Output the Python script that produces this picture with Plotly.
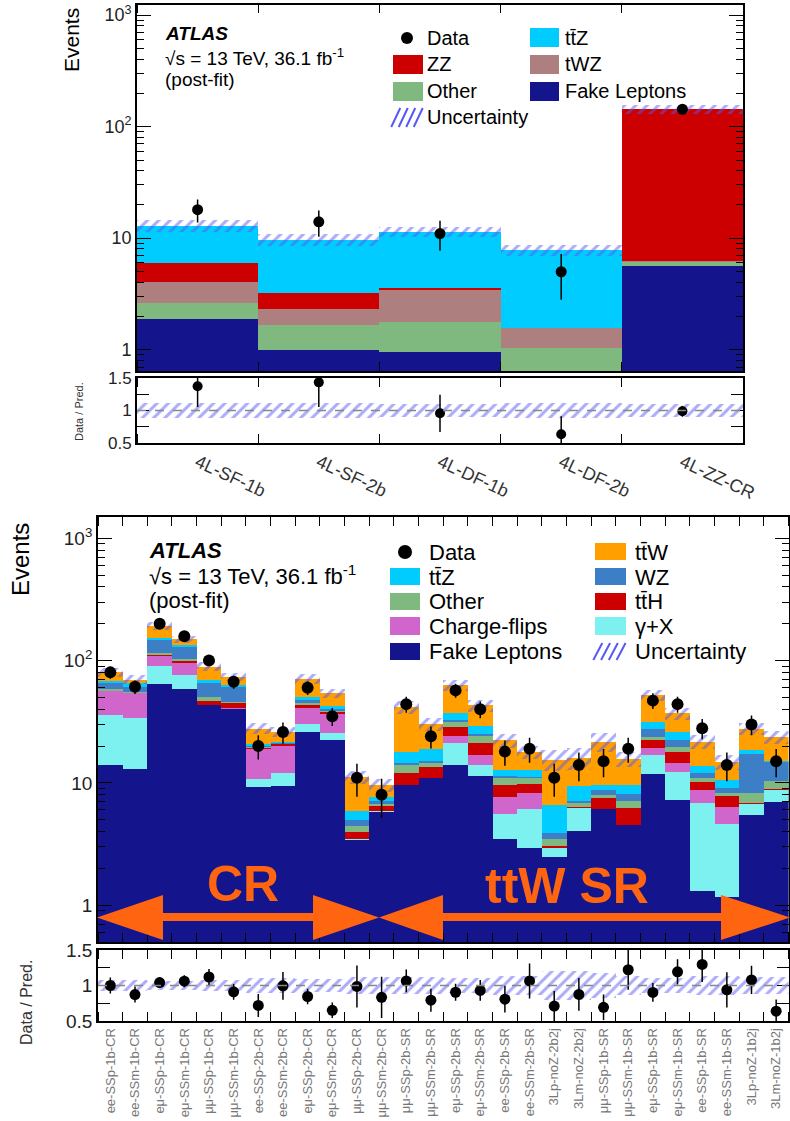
import numpy as np
import plotly.graph_objects as go

W, H = 790, 1121
def X(px): return px / W
def Y(py): return 1 - py / H

# ---------------- data: top (4L regions) ----------------
top_cats = ["4L-SF-1b", "4L-SF-2b", "4L-DF-1b", "4L-DF-2b", "4L-ZZ-CR"]
top_fake  = [1.9, 1.0, 0.97, 0.3, 5.7]
top_other = [0.74, 0.69, 0.84, 0.74, 0.5]
top_twz   = [1.49, 0.64, 1.64, 0.54, 0.05]
top_zz    = [1.91, 0.94, 0.2, 0.0, 138.0]
top_ttz   = [7.06, 6.5, 7.85, 6.31, 0.5]
top_data  = [18, 14, 11, 5, 143]
top_err   = [4.2, 3.7, 3.3, 2.2, 12.0]
top_unc   = [0.12, 0.12, 0.10, 0.12, 0.10]

# ---------------- data: bottom (2LSS / 3L regions) ----------------
bot_cats = ["ee-SSp-1b-CR", "ee-SSm-1b-CR", "eμ-SSp-1b-CR", "eμ-SSm-1b-CR",
            "μμ-SSp-1b-CR", "μμ-SSm-1b-CR", "ee-SSp-2b-CR", "ee-SSm-2b-CR",
            "eμ-SSp-2b-CR", "eμ-SSm-2b-CR", "μμ-SSp-2b-CR", "μμ-SSm-2b-CR",
            "μμ-SSp-2b-SR", "μμ-SSm-2b-SR", "eμ-SSp-2b-SR", "eμ-SSm-2b-SR",
            "ee-SSp-2b-SR", "ee-SSm-2b-SR", "3Lp-noZ-2b2j", "3Lm-noZ-2b2j",
            "μμ-SSp-1b-SR", "μμ-SSm-1b-SR", "eμ-SSp-1b-SR", "eμ-SSm-1b-SR",
            "ee-SSp-1b-SR", "ee-SSm-1b-SR", "3Lp-noZ-1b2j", "3Lm-noZ-1b2j"]
bot_fake  = [14, 12.9, 64, 58, 43, 40, 9.3, 9.4, 25.8, 22.3, 3.4, 5.8, 9.6, 10.9,
             14.1, 11.4, 3.45, 2.96, 2.48, 4.05, 6.06, 4.51, 11.9, 7.3, 1.31, 1.17, 5.5, 7.0]
bot_gamma = [22, 20.7, 26, 18, 0.5, 0.5, 1.4, 2.7, 4.4, 3.3, 0.05, 0.05, 0.05, 0.05,
             6.9, 2.6, 2.15, 3.1, 0.48, 2.2, 0.05, 0.05, 4.9, 5.0, 5.55, 3.43, 1.2, 1.7]
bot_qflip = [20, 20.2, 19, 18.6, 0.2, 0.2, 8.1, 7.9, 11.1, 10.9, 0, 0, 0, 0,
             3.0, 2.8, 2.0, 2.2, 0, 0, 0, 0, 2.3, 2.3, 1.84, 1.76, 0, 0]
bot_tth   = [0.5, 0.5, 2, 5, 3, 3.9, 0.5, 0.6, 1.9, 1.1, 0.55, 0.6, 2.5, 2.6,
             4.7, 4.2, 2.0, 1.6, 0.07, 0.1, 1.44, 1.66, 3.2, 3.3, 1.5, 1.44, 0.2, 0.2]
bot_other = [2, 1.2, 4, 2.4, 4, 1.6, 0.3, 0.3, 1.5, 1.0, 0.4, 0.25, 1.9, 1.1,
             2.9, 3.0, 1.3, 1.0, 0.42, 0.5, 0.4, 0.83, 1.5, 1.8, 0.7, 0.5, 1.3, 1.5]
bot_wz    = [7, 5.4, 32, 28, 14.4, 14.7, 0.3, 0.3, 2.8, 1.5, 0.6, 0.4, 0.6, 0.5,
             1.0, 0.9, 0.45, 0.4, 0.45, 0.2, 0.8, 1.1, 3.5, 2.6, 1.2, 0.85, 9.0, 4.5]
bot_ttz   = [2.5, 4, 5, 3, 4.2, 2.1, 1.0, 0.5, 2.9, 2.3, 0.85, 0.6, 3.3, 3.7,
             4.3, 4.1, 1.35, 1.4, 2.68, 2.3, 0.9, 1.5, 4.2, 3.8, 1.6, 1.35, 1.3, 0.3]
bot_ttw   = [12, 5, 40, 16, 20, 10.6, 6.9, 4.4, 20.6, 11.4, 5.3, 1.9, 23.4, 11.4,
             26.1, 14.0, 9.6, 5.2, 8.9, 6.65, 12.0, 5.9, 20.6, 10.8, 7.9, 4.4, 9.3, 8.3]
bot_data  = [80, 61, 200, 158, 100, 67, 20, 26, 60, 35, 11, 8, 44, 24,
             57, 40, 18, 19, 11, 14, 15, 19, 47, 44, 28, 14, 30, 15]
bot_err   = [9, 7.8, 14, 12.6, 10, 8.2, 4.5, 5.1, 7.7, 5.9, 3.3, 2.8, 6.6, 4.9,
             7.5, 6.3, 4.2, 4.4, 3.3, 3.7, 3.9, 4.4, 6.9, 6.6, 5.3, 3.7, 5.5, 3.9]
bot_unc   = [0.08, 0.08, 0.07, 0.07, 0.08, 0.08, 0.10, 0.10, 0.09, 0.09, 0.12, 0.12,
             0.12, 0.12, 0.11, 0.11, 0.13, 0.13, 0.20, 0.20, 0.18, 0.14, 0.11, 0.11,
             0.13, 0.14, 0.12, 0.12]

# ---------------- colours ----------------
C_FAKE = "#14148c"; C_OTHER = "#80b980"; C_TWZ = "#ae7f7f"; C_ZZ = "#cc0000"
C_TTZ = "#00ccff"; C_TTW = "#ff9f00"; C_WZ = "#3d7fc6"; C_TTH = "#cc0000"
C_QF = "#d066cc"; C_GAM = "#7df0f0"; C_HATCH = "#5858f5"; C_OR = "#ff6410"

FONT = "Liberation Sans, Arial, Helvetica, sans-serif"
fig = go.Figure()

def add_stack(comps, colors, names, xa, ya):
    n = len(comps[0])
    xs = np.arange(n)
    cum = np.cumsum(np.array(comps, dtype=float), axis=0)
    for k in range(len(comps) - 1, -1, -1):
        fig.add_trace(go.Bar(x=xs, y=cum[k], width=1.0, name=names[k],
                             marker=dict(color=colors[k], line=dict(width=0)),
                             xaxis=xa, yaxis=ya, showlegend=False))
    return cum[-1]

def add_band(total, unc, xa, ya, ratio=False):
    total = np.array(total, float); unc = np.array(unc, float)
    xs = np.arange(len(total))
    if ratio:
        base = 1 - unc; height = 2 * unc
    else:
        base = total * (1 - unc); height = total * 2 * unc
    fig.add_trace(go.Bar(x=xs, y=height, base=base, width=1.0, name="Uncertainty",
                         marker=dict(color="rgba(0,0,0,0)", line=dict(width=0),
                                     pattern=dict(shape="/", fgcolor=C_HATCH,
                                                  bgcolor="rgba(0,0,0,0)",
                                                  size=8, solidity=0.38)),
                         xaxis=xa, yaxis=ya, showlegend=False))

def add_data(vals, errs, xa, ya, size):
    fig.add_trace(go.Scatter(x=np.arange(len(vals)), y=vals, mode="markers", name="Data",
                             marker=dict(color="black", size=size),
                             error_y=dict(type="data", array=errs, color="black",
                                          thickness=1.5, width=0),
                             xaxis=xa, yaxis=ya, showlegend=False))

# ---- top main
top_tot = add_stack([top_fake, top_other, top_twz, top_zz, top_ttz],
                    [C_FAKE, C_OTHER, C_TWZ, C_ZZ, C_TTZ],
                    ["Fake Leptons", "Other", "tWZ", "ZZ", "tt̄Z"], "x", "y")
add_band(top_tot, top_unc, "x", "y")
add_data(top_data, top_err, "x", "y", 11)
# ---- top ratio
add_band(top_tot, top_unc, "x2", "y2", ratio=True)
add_data(np.array(top_data) / top_tot, np.array(top_err) / top_tot, "x2", "y2", 10)

# ---- bottom main
bot_tot = add_stack([bot_fake, bot_gamma, bot_qflip, bot_tth, bot_other, bot_wz, bot_ttz, bot_ttw],
                    [C_FAKE, C_GAM, C_QF, C_TTH, C_OTHER, C_WZ, C_TTZ, C_TTW],
                    ["Fake Leptons", "γ+X", "Charge-flips", "tt̄H", "Other", "WZ", "tt̄Z", "tt̄W"],
                    "x3", "y3")
add_band(bot_tot, bot_unc, "x3", "y3")
add_data(bot_data, bot_err, "x3", "y3", 12)
# ---- bottom ratio
add_band(bot_tot, bot_unc, "x4", "y4", ratio=True)
add_data(np.array(bot_data) / bot_tot, np.array(bot_err) / bot_tot, "x4", "y4", 11)

# ---------------- axes ----------------
minor_log = [m * 10.0 ** k for k in range(-1, 4) for m in range(2, 10)]
def log_axis(domain, rng, fsize):
    return dict(type="log", domain=domain, range=rng, tickmode="array",
                tickvals=[1, 10, 100, 1000], ticktext=["1", "10", "10<sup>2</sup>", "10<sup>3</sup>"],
                ticks="inside", ticklen=14, tickwidth=1.3, tickcolor="black",
                minor=dict(ticks="inside", ticklen=7, tickwidth=1.2, tickcolor="black",
                           tickmode="array", tickvals=minor_log),
                showline=True, linecolor="black", linewidth=1.8, mirror="allticks",
                showgrid=False, zeroline=False, tickfont=dict(family=FONT, size=fsize, color="#222"),
                automargin=False)

def ratio_axis(domain, fsize):
    return dict(domain=domain, range=[0.5, 1.5], tickmode="array",
                tickvals=[0.5, 1, 1.5], ticktext=["0.5", "1", "1.5"],
                ticks="inside", ticklen=12, tickwidth=1.3, tickcolor="black",
                minor=dict(ticks="inside", ticklen=12, tickwidth=1.3, tickcolor="black",
                           tickmode="array", tickvals=[0.75, 1.25]),
                showline=True, linecolor="black", linewidth=1.8, mirror="allticks",
                showgrid=False, zeroline=False, tickfont=dict(family=FONT, size=fsize, color="#222"),
                automargin=False)

def x_axis(domain, n, anchor, labels=None, angle=0, fsize=12, color="#333", match=None):
    d = dict(domain=domain, range=[-0.5, n - 0.5], anchor=anchor,
             showline=True, linecolor="black", linewidth=1.8, mirror="allticks",
             showgrid=False, zeroline=False, automargin=False,
             tickmode="array", tickvals=list(range(n)), ticks="",
             minor=dict(ticks="inside", ticklen=9, tickwidth=1.3, tickcolor="black",
                        tickmode="array", tickvals=[i - 0.5 for i in range(n + 1)]))
    if labels is None:
        d["showticklabels"] = False
    else:
        d["ticktext"] = labels
        d["tickangle"] = angle
        d["tickfont"] = dict(family=FONT, size=fsize, color=color)
    if match:
        d["matches"] = match
    return d

tx = [X(137), X(743)]
bx = [X(98), X(788.5)]
fig.update_layout(
    xaxis=x_axis(tx, 5, "y"),
    yaxis=log_axis([Y(371), Y(4.5)], [np.log10(0.645), np.log10(1242)], 18) | dict(anchor="x"),
    xaxis2=x_axis(tx, 5, "y2", labels=top_cats, angle=25, fsize=18, color="#333", match="x"),
    yaxis2=ratio_axis([Y(443), Y(378)], 17) | dict(anchor="x2"),
    xaxis3=x_axis(bx, 28, "y3"),
    yaxis3=log_axis([Y(942), Y(517)], [np.log10(0.5), np.log10(1490)], 19) | dict(anchor="x3"),
    xaxis4=x_axis(bx, 28, "y4", labels=bot_cats, angle=-90, fsize=13, color="#777", match="x3"),
    yaxis4=ratio_axis([Y(1021), Y(950)], 19) | dict(anchor="x4"),
)

shapes = []
annots = []
# ratio reference lines
for xa, ya in [("x2", "y2"), ("x4", "y4")]:
    shapes.append(dict(type="line", xref=f"{xa} domain", yref=ya, x0=0, x1=1, y0=1, y1=1,
                       line=dict(color="#888", width=1.5, dash="dash"), layer="above"))

def text(x, y, s, size, anchor="left", bold=False, italic=False, angle=0, color="black"):
    if bold: s = f"<b>{s}</b>"
    if italic: s = f"<i>{s}</i>"
    annots.append(dict(x=X(x), y=Y(y), xref="paper", yref="paper", text=s, showarrow=False,
                       xanchor=anchor, yanchor="middle", textangle=angle,
                       font=dict(family=FONT, size=size, color=color)))

def box(x0, y0, x1, y1, color):
    shapes.append(dict(type="rect", xref="paper", yref="paper", x0=X(x0), x1=X(x1),
                       y0=Y(y1), y1=Y(y0), fillcolor=color, line=dict(width=0), layer="above"))

def dot(cx, cy, r):
    shapes.append(dict(type="circle", xref="paper", yref="paper", x0=X(cx - r), x1=X(cx + r),
                       y0=Y(cy + r), y1=Y(cy - r), fillcolor="black", line=dict(width=0), layer="above"))

def hatch(x0, y0, x1, y1):
    n = 4
    for i in range(n):
        a = x0 + (x1 - x0) * (i + 0.3) / n
        shapes.append(dict(type="line", xref="paper", yref="paper",
                           x0=X(a - 4), y0=Y(y1), x1=X(a + 5), y1=Y(y0),
                           line=dict(color=C_HATCH, width=2), layer="above"))

# ---- top texts & legend
text(72, 40, "Events", 21, anchor="center", angle=-90)
text(79, 412, "Data / Pred.", 11, anchor="center", angle=-90, color="#333")
text(163, 33, "ATLAS", 19, bold=True, italic=True)
text(163, 57, "√s = 13 TeV, 36.1 fb<sup>-1</sup>", 19)
text(163, 80, "(post-fit)", 19)
dot(407, 38, 6)
text(425, 38, "Data", 20)
box(393, 55, 423, 74, C_ZZ); text(425, 64, "ZZ", 20)
box(393, 82, 423, 101, C_OTHER); text(425, 91, "Other", 20)
hatch(393, 108, 423, 127); text(425, 117, "Uncertainty", 20)
box(530, 28, 559, 47, C_TTZ); text(563, 38, "tt̄Z", 20)
box(530, 55, 559, 74, C_TWZ); text(563, 64, "tWZ", 20)
box(530, 82, 559, 101, C_FAKE); text(563, 91, "Fake Leptons", 20)

# ---- bottom texts & legend
text(20, 560, "Events", 24, anchor="center", angle=-90)
text(26, 1003, "Data / Pred.", 16, anchor="center", angle=-90, color="#333")
text(147, 550, "ATLAS", 22, bold=True, italic=True)
text(147, 575, "√s = 13 TeV, 36.1 fb<sup>-1</sup>", 22)
text(147, 600, "(post-fit)", 22)
dot(405, 552, 7)
text(427, 552, "Data", 22)
box(390, 568, 420, 585, C_TTZ); text(427, 577, "tt̄Z", 22)
box(390, 593, 420, 610, C_OTHER); text(427, 601, "Other", 22)
box(390, 617, 420, 635, C_QF); text(427, 626, "Charge-flips", 22)
box(390, 643, 420, 660, C_FAKE); text(427, 651, "Fake Leptons", 22)
box(595, 543, 626, 560, C_TTW); text(633, 552, "tt̄W", 22)
box(595, 568, 626, 585, C_WZ); text(633, 577, "WZ", 22)
box(595, 593, 626, 610, C_TTH); text(633, 601, "tt̄H", 22)
box(595, 617, 626, 635, C_GAM); text(633, 626, "γ+X", 22)
hatch(595, 643, 626, 660); text(633, 651, "Uncertainty", 22)

# ---- CR / SR overlay
def arrow(xl, xr, hl, hr):
    yc, yt, yb, st, sb = 917.5, 895, 940, 913, 921
    pts = [(xl, yc), (hl, yt), (hl, st), (hr, st), (hr, yt), (xr, yc), (hr, yb), (hr, sb),
           (hl, sb), (hl, yb)]
    path = "M " + " L ".join(f"{X(a):.5f},{Y(b):.5f}" for a, b in pts) + " Z"
    shapes.append(dict(type="path", xref="paper", yref="paper", path=path,
                       fillcolor=C_OR, line=dict(width=0), layer="above"))
arrow(97, 379, 163, 313)
arrow(379, 790, 443, 721)
text(243, 884, "CR", 50, anchor="center", bold=True, color=C_OR)
text(567, 886, "ttW SR", 50, anchor="center", bold=True, color=C_OR)

fig.update_layout(shapes=shapes, annotations=annots, barmode="overlay", bargap=0,
                  width=W, height=H, autosize=False, margin=dict(l=0, r=0, t=0, b=0),
                  paper_bgcolor="white", plot_bgcolor="white", showlegend=False)
fig.write_html("out.html")
